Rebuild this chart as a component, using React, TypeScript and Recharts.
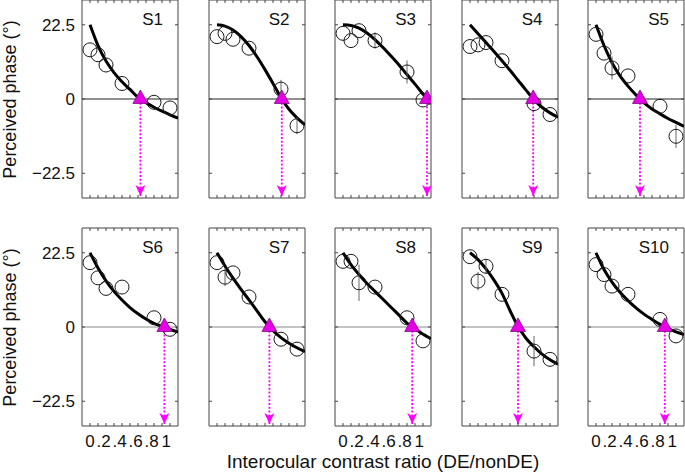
import React from "react";
import {
  ComposedChart,
  Line,
  Scatter,
  XAxis,
  YAxis,
  ReferenceLine,
  ReferenceArea,
  ErrorBar,
} from "recharts";

const FONT = '"Liberation Sans", Arial, Helvetica, sans-serif';

// contrast ratios tested, same for every observer
const RATIOS = [0, 0.1, 0.2, 0.4, 0.8, 1];
const FIT_X = [0, 0.1, 0.2, 0.3, 0.4, 0.5, 0.6, 0.7, 0.8, 0.9, 1, 1.1];
const X_TICKS = [0, 0.1, 0.2, 0.3, 0.4, 0.5, 0.6, 0.7, 0.8, 0.9, 1];
const Y_TICKS = [-22.5, 0, 22.5];
const ARROW_TIP = -29.4;

const SUBJECTS = ["S1", "S2", "S3", "S4", "S5", "S6", "S7", "S8", "S9", "S10"];

const S1_PHASE = [14.9, 13.4, 10.3, 4.7, -1.0, -2.7];
const S2_PHASE = [18.9, 19.9, 18.1, 15.4, 3.0, -8.1];
const S3_PHASE = [19.9, 17.7, 20.7, 17.7, 8.2, -0.3];
const S4_PHASE = [15.9, 16.4, 17.1, 11.6, -1.4, -4.7];
const S5_PHASE = [19.6, 13.9, 9.4, 7.0, -2.2, -11.3];
const S6_PHASE = [19.5, 14.9, 11.7, 12.1, 2.8, -0.7];
const S7_PHASE = [19.5, 15.1, 16.4, 9.1, -3.7, -6.7];
const S8_PHASE = [19.9, 19.9, 13.4, 12.1, 2.8, -4.2];
const S9_PHASE = [21.3, 13.9, 18.4, 9.9, -7.3, -9.8];
const S10_PHASE = [18.9, 15.9, 12.4, 9.9, 2.3, -2.7];

// half-length of error bars (only the ones that poke out of the markers)
const S1_ERR = [0, 0, 0, 0, 0, 0];
const S2_ERR = [0, 0, 0, 0, 2.8, 2.6];
const S3_ERR = [0, 0, 0, 2.5, 3.5, 0];
const S4_ERR = [0, 0, 0, 0, 0, 0];
const S5_ERR = [0, 0, 3.5, 0, 0, 3.5];
const S6_ERR = [0, 0, 0, 0, 0, 0];
const S7_ERR = [0, 2.7, 0, 0, 0, 0];
const S8_ERR = [0, 0, 5.5, 0, 0, 0];
const S9_ERR = [0, 2.8, 2.2, 0, 4.6, 0];
const S10_ERR = [0, 0, 0, 0, 0, 0];

const S1_FIT = [22.5, 16.2, 11.5, 8.0, 5.2, 2.9, 0.5, -1.1, -2.5, -3.7, -4.8, -5.8];
const S2_FIT = [22.5, 22.1, 20.9, 18.9, 16.2, 12.8, 8.9, 4.7, 0.4, -3.1, -5.7, -7.8];
const S3_FIT = [22.5, 22.3, 21.5, 20.0, 18.0, 15.6, 13.0, 10.3, 7.4, 4.5, 1.5, -1.5];
const S4_FIT = [22.5, 19.8, 17.1, 14.4, 11.6, 8.7, 5.7, 2.7, -0.2, -2.5, -4.2, -5.5];
const S5_FIT = [22.5, 16.2, 11.0, 7.0, 3.9, 1.2, -1.2, -3.0, -4.5, -5.9, -7.1, -8.3];
const S6_FIT = [22.5, 17.9, 14.0, 10.8, 8.2, 5.9, 4.0, 2.4, 1.1, 0.2, -0.7, -1.5];
const S7_FIT = [22.5, 18.5, 14.8, 11.4, 8.2, 4.9, 1.6, -1.1, -3.2, -4.9, -6.3, -7.5];
const S8_FIT = [22.5, 18.9, 15.9, 13.2, 10.8, 8.4, 6.0, 3.6, 1.2, -0.5, -2.2, -3.5];
const S9_FIT = [22.5, 20.4, 17.6, 14.2, 10.2, 5.0, 0.2, -3.4, -6.0, -8.2, -9.9, -11.3];
const S10_FIT = [22.5, 17.4, 13.6, 10.5, 8.0, 5.8, 3.9, 2.3, 0.8, -0.5, -1.5, -2.3];

// balance point (fit crosses zero)
const BALANCE = [0.63, 0.81, 1.05, 0.79, 0.55, 0.93, 0.655, 0.865, 0.6, 0.86];

const PHASE = [S1_PHASE, S2_PHASE, S3_PHASE, S4_PHASE, S5_PHASE, S6_PHASE, S7_PHASE, S8_PHASE, S9_PHASE, S10_PHASE];
const ERR = [S1_ERR, S2_ERR, S3_ERR, S4_ERR, S5_ERR, S6_ERR, S7_ERR, S8_ERR, S9_ERR, S10_ERR];
const FIT = [S1_FIT, S2_FIT, S3_FIT, S4_FIT, S5_FIT, S6_FIT, S7_FIT, S8_FIT, S9_FIT, S10_FIT];

// layout of the small multiples
const COL_LEFT = [82, 208.5, 335, 461.5, 588];
const ROW_TOP = [0, 228];
const PW = 96;
const PH = 198;
const BOTTOM_H = 30;
const TICK = 3;

const FRAME = "#444";
const MAGENTA = "#ff00ff";

function fmtX(v: number): string {
  const k = Math.round(v * 10);
  if (k === 0) return "0";
  if (k === 10) return "1";
  return k % 2 === 0 ? "." + k : "";
}

function fmtY(v: number): string {
  if (v === 0) return "0";
  return v < 0 ? "\u2212" + Math.abs(v) : String(v);
}

// matlab style ticks: inward on both opposite sides of the box
function makeXTick(showLabel: boolean) {
  return (p: any) => {
    const { x, y, payload } = p;
    const label = showLabel ? fmtX(payload.value) : "";
    // keep the digit on the tick, the leading dot hangs left; the "1" sits snug after ".8"
    const dx = label === "1" ? 1 : 4.7;
    return (
      <g>
        <line x1={x} x2={x} y1={y} y2={y - TICK} stroke={FRAME} />
        <line x1={x} x2={x} y1={y - PH} y2={y - PH + TICK} stroke={FRAME} />
        {label && (
          <text x={x + dx} y={y + 21} textAnchor="end" fontSize={17} fill="#111" fontFamily={FONT}>
            {label}
          </text>
        )}
      </g>
    );
  };
}

function makeYTick(showLabel: boolean) {
  return (p: any) => {
    const { x, y, payload } = p;
    return (
      <g>
        <line x1={x} x2={x + TICK} y1={y} y2={y} stroke={FRAME} />
        <line x1={x + PW - TICK} x2={x + PW} y1={y} y2={y} stroke={FRAME} />
        {showLabel && (
          <text x={x - 7} y={y + 6} textAnchor="end" fontSize={17} fill="#111" fontFamily={FONT}>
            {fmtY(payload.value)}
          </text>
        )}
      </g>
    );
  };
}

const OpenCircle = (p: any) => (
  <circle cx={p.cx} cy={p.cy} r={7} fill="none" stroke="#1a1a1a" strokeWidth={1} />
);

const Triangle = (p: any) => (
  <polygon
    points={`${p.cx},${p.cy - 9} ${p.cx - 7.5},${p.cy + 4.5} ${p.cx + 7.5},${p.cy + 4.5}`}
    fill="#e600e6"
    stroke="#7a107a"
    strokeWidth={0.8}
  />
);

const ArrowHead = (p: any) => (
  <path
    d={`M${p.cx},${p.cy} L${p.cx - 5},${p.cy - 11} L${p.cx},${p.cy - 8} L${p.cx + 5},${p.cy - 11} Z`}
    fill={MAGENTA}
  />
);

function Panel({ idx }: { idx: number }) {
  const row = idx < 5 ? 0 : 1;
  const col = idx % 5;
  const leftW = col === 0 ? 60 : 1;
  const showX = row === 1 && col % 2 === 0;
  const points = RATIOS.map((x, i) => ({ x, y: PHASE[idx][i], err: ERR[idx][i] }));
  const fit = FIT_X.map((x, i) => ({ x, y: FIT[idx][i] }));
  const pse = BALANCE[idx];
  const arrowLine = [
    { x: pse, y: 0 },
    { x: pse, y: ARROW_TIP },
  ];

  return (
    <div style={{ position: "absolute", left: COL_LEFT[col] - leftW, top: ROW_TOP[row] - 1 }}>
      <ComposedChart
        width={leftW + PW + 1}
        height={1 + PH + BOTTOM_H}
        margin={{ top: 1, right: 1, bottom: 0, left: 0 }}
      >
        <XAxis
          dataKey="x"
          type="number"
          domain={[-0.1, 1.1]}
          ticks={X_TICKS}
          interval={0}
          height={BOTTOM_H}
          tickSize={0}
          tickMargin={0}
          axisLine={false}
          tickLine={false}
          tick={makeXTick(showX)}
          allowDataOverflow
        />
        <YAxis
          dataKey="y"
          type="number"
          domain={[-30, 30]}
          ticks={Y_TICKS}
          interval={0}
          width={leftW}
          tickSize={0}
          tickMargin={0}
          axisLine={false}
          tickLine={false}
          tick={makeYTick(col === 0)}
          allowDataOverflow
        />
        <ReferenceArea
          x1={-0.1}
          x2={1.1}
          y1={-30}
          y2={30}
          fill="none"
          fillOpacity={0}
          stroke={FRAME}
          strokeWidth={1}
          ifOverflow="visible"
        />
        <ReferenceLine y={0} stroke={row === 0 ? "#222" : "#888"} strokeWidth={1} />
        <Line
          data={fit}
          dataKey="y"
          type="monotone"
          stroke="#000"
          strokeWidth={3}
          dot={false}
          isAnimationActive={false}
        />
        <Scatter data={points} dataKey="y" shape={OpenCircle} isAnimationActive={false}>
          <ErrorBar dataKey="err" direction="y" width={0} stroke="#666" strokeWidth={1} isAnimationActive={false} />
        </Scatter>
        <Line
          data={arrowLine}
          dataKey="y"
          type="linear"
          stroke={MAGENTA}
          strokeWidth={1.8}
          strokeDasharray="2 1.8"
          dot={false}
          isAnimationActive={false}
        />
        <Scatter data={[{ x: pse, y: ARROW_TIP }]} dataKey="y" shape={ArrowHead} isAnimationActive={false} />
        <Scatter data={[{ x: pse, y: 0 }]} dataKey="y" shape={Triangle} isAnimationActive={false} />
      </ComposedChart>
    </div>
  );
}

export default function App() {
  return (
    <div
      style={{
        position: "absolute",
        left: 0,
        top: 0,
        width: 685,
        height: 474,
        background: "#fff",
        overflow: "hidden",
        fontFamily: FONT,
      }}
    >
      {SUBJECTS.map((s, i) => (
        <Panel key={s} idx={i} />
      ))}
      <svg
        width={685}
        height={474}
        style={{ position: "absolute", left: 0, top: 0, pointerEvents: "none" }}
        fontFamily={FONT}
      >
        {SUBJECTS.map((s, i) => (
          <text
            key={s}
            x={COL_LEFT[i % 5] + 81}
            y={ROW_TOP[i < 5 ? 0 : 1] + 24.5}
            textAnchor="end"
            fontSize={17}
            fill="#111"
          >
            {s}
          </text>
        ))}
        {ROW_TOP.map((t) => (
          <text
            key={t}
            transform={`translate(16, ${t + 99.5}) rotate(-90)`}
            textAnchor="middle"
            fontSize={18}
            fill="#111"
          >
            Perceived phase (°)
          </text>
        ))}
        <text x={383} y={467.5} textAnchor="middle" fontSize={19} fill="#111">
          Interocular contrast ratio (DE/nonDE)
        </text>
      </svg>
    </div>
  );
}
